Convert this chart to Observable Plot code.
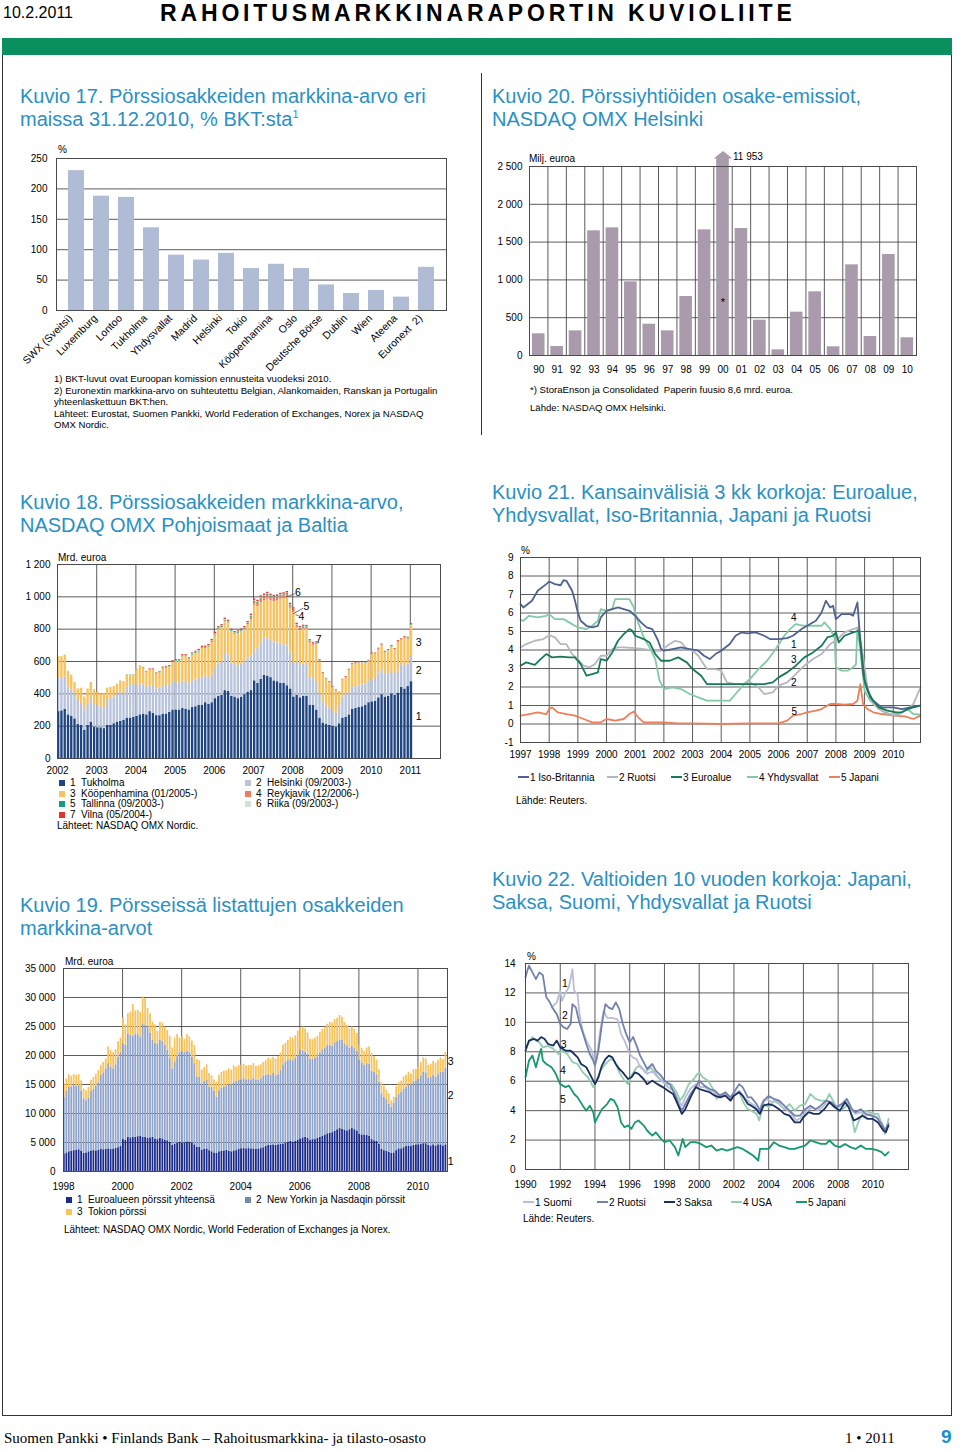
<!DOCTYPE html>
<html><head><meta charset="utf-8">
<script src="https://cdn.jsdelivr.net/npm/d3@7"></script>
<script src="https://cdn.jsdelivr.net/npm/@observablehq/plot@0.6"></script>
<style>
body{margin:0;background:#fff;}
#page{position:relative;width:960px;height:1450px;font-family:"Liberation Sans",Arial,sans-serif;color:#000;overflow:hidden;background:#fff}
.a{position:absolute;white-space:pre}
.title{position:absolute;color:#2a90c4;font-size:20px;line-height:23px;white-space:nowrap}
.note{position:absolute;font-size:9.6px;line-height:11.5px;white-space:pre}
.unit{position:absolute;font-size:10px;white-space:nowrap}
.leg{position:absolute;font-size:10px;white-space:pre;line-height:12px}
.sq{display:inline-block;width:6px;height:6px;margin-right:5px;vertical-align:0px}
.ln{display:inline-block;width:11px;height:2px;vertical-align:3px;margin-right:1px}
sup{font-size:11px;line-height:0;vertical-align:8px}
</style></head>
<body><div id="page"></div>
<script>
// ---------- DATA ----------
// Kuvio 17
const cats17 = ["SWX (Sveitsi)","Luxemburg","Lontoo","Tukholma","Yhdysvallat","Madrid","Helsinki","Tokio","Kööpenhamina","Oslo","Deutsche Börse","Dublin","Wien","Ateena","Euronext  2)"];
const vals17 = [230,188,186,136,91,83,94,69,76,69,42,28,33,22,71];
const ticks17 = [0,50,100,150,200,250];

// Kuvio 20
const years20 = ["90","91","92","93","94","95","96","97","98","99","00","01","02","03","04","05","06","07","08","09","10"];
const vals20 = [287,119,326,1649,1689,974,414,326,780,1662,11953,1680,467,75,573,842,115,1199,251,1336,234];
const ticks20 = [0,500,1000,1500,2000,2500];
const star20 = 700; // level of the "*" note marker

// Kuvio 18 (monthly 2002-01 .. 2011-01), cumulative levels
const k18Tuk = [290,295,305,270,260,245,210,205,175,205,225,195,
190,190,185,205,205,215,225,230,235,250,250,255,
260,270,275,270,290,280,265,265,275,275,285,300,
300,300,310,305,300,315,320,330,330,345,335,345,
370,385,390,420,415,385,380,370,380,395,410,420,
480,465,490,515,510,500,480,475,465,465,450,430,
380,390,375,385,385,330,330,300,250,220,210,205,
200,195,215,250,255,270,305,310,315,320,330,345,
350,355,375,395,380,385,400,390,405,440,430,445,
475];
const k18HelTop = [500,494,504,442,422,401,360,340,298,340,370,340,
329,319,309,360,370,381,401,411,401,442,453,463,
450,460,455,440,450,445,430,435,445,445,455,470,
470,465,480,470,460,480,485,495,500,510,500,515,
555,585,600,650,640,590,580,575,585,600,620,635,
660,680,720,745,740,735,720,715,705,710,695,660,
590,600,580,585,580,500,495,470,400,345,330,310,
290,280,330,380,395,410,440,445,450,455,460,480,
485,500,530,545,520,520,540,525,540,580,570,585,
630];
const k18KopTop = [630,630,640,540,515,470,430,435,380,430,470,425,
410,400,400,435,440,445,460,480,470,515,515,515,
550,570,560,535,545,545,520,530,555,560,565,595,
600,600,630,630,610,640,650,660,680,680,690,720,
765,800,810,850,840,785,770,775,785,800,830,860,
950,940,965,975,985,975,970,975,985,990,1000,930,
905,810,790,800,800,715,700,705,595,525,490,470,
440,420,405,485,500,545,580,585,590,590,590,600,
645,645,675,700,655,665,690,670,720,730,745,740,
825];
// small exchanges (segment values), with first month index
const k18Rey = [14,18,20,22,24,24,22,22,20,20,18,16,14,12,12,12,11,10,9,8,6,5]; // from 2006-12
const k18Tal = [2,2,2,2, 2,2,3,3,3,3,3,3,3,3,3,4, 4,4,4,4,4,4,5,5,5,5,5,5, 5,5,6,6,5,5,5,5,5,5,6,6, 6,6,6,6,6,6,5,5,5,5,5,5, 4,4,4,4,4,3,3,3,3,2,2,2, 1,1,1,1,2,2,2,2,2,2,2,2, 2,2,2,2,2,2,2,2,3,3,3,3, 3]; // from 2003-09
const k18Rii = [1,1,1,1, 1,1,2,2,2,2,2,2,2,2,2,2, 2,2,2,2,3,3,3,3,3,3,3,3, 3,3,4,4,3,3,3,3,3,3,4,4, 4,4,4,4,4,4,3,3,3,3,3,3, 3,3,3,3,2,2,2,2,2,1,1,1, 1,1,1,1,1,1,1,1,1,1,1,1, 1,1,1,1,1,1,2,2,2,2,2,2, 2]; // from 2003-09
const k18Vil = [4,4,4,4,5,5,5,5, 5,5,6,6,6,6,6,7,7,7,7,8, 8,8,8,8,7,7,7,7,8,8,8,9, 9,9,9,9,9,9,9,9,9,9,9,8, 8,8,7,7,7,6,6,6,5,4,3,3, 3,3,3,3,4,4,4,4,4,4,4,4, 4,4,4,5,5,5,5,5,5,5,5,5, 5]; // from 2004-05
const ticks18 = [0,200,400,600,800,1000,1200];
const years18 = [2002,2003,2004,2005,2006,2007,2008,2009,2010,2011];

// Kuvio 19 (monthly 1998-01 .. 2010-12), cumulative levels
const k19Eur = [3000,3200,3400,3500,3600,3650,3750,3500,3100,3200,3400,3550,
3600,3550,3650,3800,3750,3850,3900,3800,3850,4000,4100,4300,
5500,5400,5900,5800,5900,5900,6000,6100,5900,5900,5700,5800,
5900,5600,5500,5700,5600,5400,5300,5000,4500,4700,4900,5000,
4900,4950,5100,5050,4900,4600,4200,4150,3700,3800,3900,3600,
3400,3200,3100,3400,3500,3550,3650,3500,3400,3550,3600,3800,
3900,4000,3900,3950,3900,3900,3850,3900,3950,4100,4300,4500,
4500,4600,4500,4600,4700,4750,4900,5000,5200,5000,5200,5400,
5600,5800,5900,5700,5400,5500,5500,5700,5900,6100,6300,6500,
6600,6700,6900,7200,7400,7300,7100,7000,7200,7400,7200,7000,
6400,6300,6300,6200,6100,5500,5300,5200,4700,3800,3600,3500,
3300,3100,3200,3600,3900,3900,4100,4300,4400,4300,4500,4600,
4600,4700,4800,4800,4500,4400,4600,4400,4600,4600,4400,4600];
const k19NyTop = [12800,13800,14500,14600,14900,14700,14800,13900,12500,12200,12600,13800,
14200,14700,15400,16600,17000,17600,18600,18000,17700,18400,19700,20500,
22000,21800,23700,23500,23300,23600,23600,23200,25400,25200,24900,23900,
22600,22100,22000,22600,22500,21800,20900,19600,17700,18900,19800,20500,
20600,20600,20700,20500,19700,18600,16300,16200,15100,15500,15800,14500,
14500,13800,12800,13900,14300,14500,14800,15000,14900,15300,15500,15700,
15700,16000,15800,15900,15800,16000,15700,15800,16000,16500,16600,16700,
16600,16900,16500,16700,17400,18400,18900,19100,19300,19100,19500,20000,
20900,20800,20600,20200,19300,19400,19600,19800,20400,21000,21300,21700,
21800,21600,22200,22400,22700,22600,22000,21700,21300,21600,21200,20700,
19200,18700,18300,18600,18500,17300,17100,16700,15400,13400,12800,12500,
11600,11100,11800,12800,13300,13600,14200,14500,15000,14900,15500,15600,
15900,16400,17100,17000,16100,16200,16600,16300,16700,17100,17100,17800];
const k19Top = [15100,15900,16700,16400,16700,16600,16700,15600,14200,13900,14500,15700,
16200,16700,17400,18300,18800,19400,21500,20800,20500,21000,22400,23000,
26500,25300,27200,27500,28800,27700,27800,27400,30100,29800,28100,27200,
25700,25300,24200,25700,25600,24900,24300,23300,21300,23000,23600,23000,
23200,22800,23600,23200,22500,21700,19300,19100,17500,17900,18400,16900,
16500,15800,15400,16600,17100,17300,17400,17700,17500,18200,18000,18300,
18300,18500,18200,18300,18300,18600,18100,18200,18400,18800,19100,19500,
19400,19700,19400,19800,20400,21800,22100,22600,23100,23000,23400,24200,
24800,24900,24600,23900,22800,22800,23000,23300,24000,24500,24900,25400,
25700,25600,26200,26400,26900,26600,25700,25200,24600,24900,24500,23800,
21800,21200,20700,21300,21500,20300,19800,19200,17500,15300,14700,14000,
13400,12200,12800,14600,15300,15600,16300,16600,17100,16800,17500,17600,
18000,18800,19600,19400,18300,18500,19000,18700,19200,19600,19300,20500];
const ticks19 = [0,5000,10000,15000,20000,25000,30000,35000];
const years19 = [1998,2000,2002,2004,2006,2008,2010];

// Kuvio 21: [year, %]
const uk21 = [[1997.0,6.48],[1997.1,6.3],[1997.4,6.66],[1997.6,7.2],[1997.9,7.56],[1998.0,7.7],[1998.2,7.56],[1998.4,7.5],[1998.5,7.77],[1998.6,7.74],[1998.8,7.2],[1998.9,6.66],[1999.0,6.03],[1999.1,5.58],[1999.3,5.31],[1999.5,5.22],[1999.7,5.31],[1999.8,5.76],[2000.0,6.12],[2000.2,6.21],[2000.4,6.3],[2000.6,6.21],[2000.8,6.12],[2001.0,5.85],[2001.2,5.49],[2001.4,5.22],[2001.6,5.13],[2001.8,4.5],[2001.9,4.05],[2002.0,3.96],[2002.3,4.05],[2002.6,4.14],[2002.9,4.05],[2003.2,3.96],[2003.4,3.69],[2003.6,3.51],[2003.8,3.78],[2004.0,3.96],[2004.3,4.32],[2004.5,4.77],[2004.7,4.95],[2004.9,4.9],[2005.2,4.95],[2005.5,4.77],[2005.7,4.59],[2006.0,4.59],[2006.3,4.64],[2006.5,4.77],[2006.8,5.13],[2007.0,5.31],[2007.3,5.58],[2007.5,6.03],[2007.65,6.66],[2007.8,6.3],[2007.9,6.39],[2008.0,5.67],[2008.2,5.94],[2008.5,5.94],[2008.6,5.85],[2008.75,6.57],[2008.85,4.5],[2008.95,2.7],[2009.1,1.8],[2009.3,1.26],[2009.6,0.9],[2010.0,0.9],[2010.3,0.81],[2010.6,0.9],[2010.9,0.99]];
const se21 = [[1997.0,4.14],[1997.2,4.32],[1997.5,4.5],[1997.8,4.59],[1998.0,4.8],[1998.2,4.68],[1998.4,4.32],[1998.6,4.32],[1998.8,3.78],[1999.0,3.51],[1999.2,3.15],[1999.4,3.06],[1999.6,3.24],[1999.8,3.69],[2000.0,3.69],[2000.2,4.05],[2000.4,4.14],[2000.6,4.14],[2001.0,4.1],[2001.3,4.05],[2001.6,3.96],[2001.9,3.96],[2002.2,4.32],[2002.4,4.5],[2002.6,4.41],[2002.8,4.05],[2003.0,3.96],[2003.2,3.69],[2003.5,2.97],[2003.8,2.97],[2004.0,2.88],[2004.2,2.25],[2004.5,2.16],[2004.8,2.16],[2005.0,2.25],[2005.3,1.98],[2005.5,1.62],[2005.8,1.71],[2006.0,2.07],[2006.3,2.25],[2006.6,2.7],[2006.9,3.15],[2007.2,3.51],[2007.5,3.78],[2007.8,4.32],[2008.0,4.5],[2008.3,4.95],[2008.6,5.13],[2008.8,5.22],[2008.95,3.6],[2009.1,1.98],[2009.3,1.08],[2009.6,0.72],[2009.9,0.54],[2010.2,0.54],[2010.5,0.81],[2010.7,1.08],[2010.95,1.98]];
const ea21 = [[1997.0,3.15],[1997.2,3.33],[1997.5,3.2],[1997.7,3.51],[1997.9,3.78],[1998.1,3.6],[1998.4,3.64],[1998.7,3.6],[1998.9,3.6],[1999.1,3.24],[1999.3,2.61],[1999.5,2.7],[1999.7,2.79],[1999.8,3.51],[2000.0,3.42],[2000.2,3.87],[2000.4,4.5],[2000.6,4.86],[2000.8,5.13],[2000.9,5.04],[2001.0,4.77],[2001.3,4.59],[2001.5,4.41],[2001.7,3.78],[2001.9,3.42],[2002.2,3.42],[2002.5,3.6],[2002.8,3.33],[2003.0,2.97],[2003.3,2.61],[2003.5,2.16],[2004.0,2.16],[2004.5,2.16],[2005.0,2.16],[2005.5,2.16],[2005.8,2.25],[2006.0,2.52],[2006.3,2.79],[2006.6,3.15],[2006.9,3.6],[2007.2,3.87],[2007.5,4.23],[2007.7,4.68],[2007.9,4.77],[2008.0,4.95],[2008.1,4.41],[2008.3,4.77],[2008.6,4.95],[2008.8,5.04],[2008.9,3.78],[2009.0,2.34],[2009.2,1.44],[2009.5,0.9],[2009.8,0.72],[2010.1,0.63],[2010.3,0.63],[2010.5,0.81],[2010.7,0.9],[2010.95,0.99]];
const us21 = [[1997.0,5.63],[1997.1,5.58],[1997.3,5.85],[1997.6,5.76],[1997.9,5.85],[1998.0,5.94],[1998.2,5.67],[1998.5,5.67],[1998.8,5.4],[1998.9,5.31],[1999.0,5.22],[1999.3,5.13],[1999.5,5.31],[1999.7,5.58],[1999.8,6.21],[2000.0,6.12],[2000.2,6.21],[2000.3,6.75],[2000.5,6.75],[2000.8,6.75],[2000.95,6.3],[2001.1,5.49],[2001.3,4.68],[2001.5,4.14],[2001.7,3.51],[2001.85,2.34],[2002.0,1.89],[2002.3,1.98],[2002.6,1.89],[2002.9,1.62],[2003.2,1.44],[2003.5,1.26],[2003.8,1.26],[2004.0,1.26],[2004.3,1.26],[2004.5,1.62],[2004.8,2.16],[2005.0,2.43],[2005.3,2.97],[2005.6,3.42],[2005.9,4.05],[2006.2,4.77],[2006.4,5.13],[2006.6,5.4],[2006.9,5.31],[2007.2,5.31],[2007.5,5.31],[2007.6,5.49],[2007.8,5.13],[2007.95,4.68],[2008.0,3.06],[2008.2,2.88],[2008.4,2.88],[2008.6,3.06],[2008.7,3.24],[2008.75,5.22],[2008.85,3.96],[2009.0,1.8],[2009.2,1.26],[2009.5,0.81],[2009.8,0.54],[2010.1,0.45],[2010.3,0.63],[2010.5,0.81],[2010.7,0.54],[2010.95,0.5]];
const jp21 = [[1997.0,0.45],[1997.3,0.54],[1997.6,0.63],[1997.9,0.54],[1998.0,0.81],[1998.1,0.9],[1998.3,0.63],[1998.6,0.54],[1998.9,0.45],[1999.2,0.27],[1999.5,0.09],[1999.8,0.09],[2000.0,0.27],[2000.3,0.18],[2000.6,0.27],[2000.8,0.54],[2000.95,0.68],[2001.1,0.36],[2001.3,0.09],[2001.6,0.09],[2002.0,0.09],[2002.5,0.03],[2003.0,0.03],[2004.0,0.0],[2005.0,0.03],[2005.5,0.03],[2006.0,0.03],[2006.3,0.18],[2006.5,0.45],[2006.8,0.54],[2007.0,0.63],[2007.3,0.72],[2007.5,0.81],[2007.8,1.08],[2008.0,1.08],[2008.3,1.04],[2008.6,1.08],[2008.75,1.26],[2008.85,2.16],[2008.95,1.08],[2009.1,0.81],[2009.3,0.63],[2009.6,0.54],[2010.0,0.45],[2010.4,0.41],[2010.7,0.27],[2010.95,0.45]];
const lab21 = [{t:"4",x:2006.53,y:5.73},{t:"1",x:2006.53,y:4.29},{t:"3",x:2006.53,y:3.48},{t:"2",x:2006.53,y:2.25},{t:"5",x:2006.55,y:0.68}];

// Kuvio 22: [year, %]
const fi22 = [[1991.5,11.0],[1991.8,11.36],[1992.0,12.15],[1992.1,11.47],[1992.3,12.0],[1992.5,12.4],[1992.7,13.6],[1992.8,12.15],[1993.0,11.9],[1993.1,10.6],[1993.3,9.4],[1993.5,8.76],[1993.8,8.1],[1994.0,7.2],[1994.1,7.5],[1994.3,9.4],[1994.5,10.8],[1994.7,10.3],[1995.0,10.3],[1995.3,10.2],[1995.5,9.2],[1995.7,8.76],[1996.0,7.85],[1996.2,7.6],[1996.4,7.5],[1996.6,6.95],[1996.8,6.8],[1997.0,6.5],[1997.3,6.7],[1997.6,6.27],[1997.9,6.0],[1998.2,5.6],[1998.5,5.36],[1998.8,4.7],[1999.0,4.34],[1999.2,4.9],[1999.5,5.5],[1999.8,5.8],[2000.0,5.6],[2000.3,5.6],[2000.6,5.36],[2000.9,5.25],[2001.2,5.0],[2001.5,5.1],[2001.8,4.8],[2002.0,5.1],[2002.3,5.36],[2002.6,4.9],[2002.9,4.57],[2003.2,4.34],[2003.4,3.8],[2003.6,4.45],[2003.9,4.8],[2004.2,4.57],[2004.5,4.68],[2004.8,4.23],[2005.0,4.1],[2005.3,3.78],[2005.6,3.33],[2005.9,3.55],[2006.2,4.0],[2006.5,4.23],[2006.8,4.0],[2007.1,4.23],[2007.4,4.68],[2007.7,4.45],[2008.0,4.23],[2008.3,4.45],[2008.5,4.68],[2008.8,4.0],[2009.0,3.78],[2009.3,3.9],[2009.6,3.66],[2009.9,3.78],[2010.2,3.55],[2010.5,3.2],[2010.7,2.65],[2010.9,3.2]];
const se22 = [[1990.0,13.05],[1990.1,13.5],[1990.2,13.85],[1990.4,13.4],[1990.6,12.94],[1990.8,13.4],[1991.0,13.2],[1991.2,11.7],[1991.4,11.36],[1991.6,10.9],[1991.8,10.56],[1992.0,9.9],[1992.2,9.66],[1992.4,9.55],[1992.6,9.9],[1992.7,11.24],[1992.9,11.0],[1993.1,10.0],[1993.3,9.3],[1993.5,8.53],[1993.7,7.85],[1993.9,7.4],[1994.0,7.06],[1994.2,8.1],[1994.4,9.9],[1994.6,11.24],[1994.8,11.0],[1995.0,10.9],[1995.2,11.36],[1995.4,10.9],[1995.6,9.9],[1995.8,9.2],[1996.0,8.64],[1996.2,9.0],[1996.4,8.4],[1996.6,7.74],[1996.8,7.3],[1997.0,6.83],[1997.3,7.17],[1997.5,6.72],[1997.8,6.38],[1998.0,6.04],[1998.3,5.8],[1998.6,5.13],[1998.8,4.45],[1999.0,4.0],[1999.2,4.45],[1999.5,5.13],[1999.8,5.6],[2000.0,6.04],[2000.3,5.7],[2000.6,5.47],[2000.9,5.36],[2001.2,5.02],[2001.5,5.25],[2001.8,4.9],[2002.0,5.25],[2002.3,5.8],[2002.5,5.6],[2002.8,4.9],[2003.0,4.9],[2003.3,4.45],[2003.5,4.0],[2003.7,4.68],[2004.0,5.0],[2004.3,4.8],[2004.6,4.68],[2004.9,4.34],[2005.2,4.0],[2005.5,3.66],[2005.8,3.66],[2006.1,4.1],[2006.4,4.34],[2006.7,4.1],[2007.0,4.34],[2007.3,4.68],[2007.6,4.57],[2007.9,4.23],[2008.2,4.45],[2008.5,4.8],[2008.8,4.1],[2009.0,3.9],[2009.3,4.1],[2009.6,3.78],[2009.9,3.66],[2010.2,3.55],[2010.5,3.1],[2010.7,2.65],[2010.9,3.1]];
const de22 = [[1990.0,8.08],[1990.2,8.76],[1990.5,8.87],[1990.7,8.76],[1990.9,9.0],[1991.1,8.87],[1991.3,8.53],[1991.6,8.42],[1991.8,8.76],[1992.0,8.3],[1992.3,8.08],[1992.6,8.08],[1992.8,7.85],[1993.0,7.62],[1993.2,7.17],[1993.5,6.95],[1993.7,6.5],[1993.9,6.04],[1994.0,5.8],[1994.2,6.27],[1994.4,7.06],[1994.6,7.5],[1994.8,7.74],[1995.0,7.62],[1995.2,7.17],[1995.4,6.83],[1995.6,6.6],[1995.9,6.15],[1996.1,6.27],[1996.3,6.6],[1996.5,6.5],[1996.8,6.15],[1997.0,5.8],[1997.3,6.04],[1997.6,5.8],[1997.9,5.6],[1998.2,5.36],[1998.5,5.13],[1998.8,4.34],[1999.0,3.78],[1999.2,4.1],[1999.5,4.9],[1999.8,5.6],[2000.0,5.47],[2000.3,5.36],[2000.6,5.25],[2000.9,5.02],[2001.2,4.9],[2001.5,5.02],[2001.8,4.68],[2002.0,5.02],[2002.3,5.25],[2002.5,5.02],[2002.8,4.45],[2003.0,4.34],[2003.3,4.1],[2003.5,3.78],[2003.7,4.34],[2004.0,4.45],[2004.3,4.34],[2004.6,4.1],[2004.9,3.78],[2005.2,3.66],[2005.5,3.2],[2005.8,3.2],[2006.0,3.55],[2006.3,3.9],[2006.6,3.78],[2006.9,3.78],[2007.2,4.1],[2007.5,4.57],[2007.8,4.23],[2008.1,4.0],[2008.4,4.57],[2008.6,4.23],[2008.9,3.33],[2009.1,3.44],[2009.4,3.66],[2009.7,3.44],[2010.0,3.44],[2010.3,3.2],[2010.6,2.65],[2010.75,2.53],[2010.9,2.99]];
const us22 = [[1990.0,8.3],[1990.2,8.64],[1990.4,9.0],[1990.6,8.76],[1990.8,8.64],[1991.0,8.3],[1991.3,8.4],[1991.6,8.2],[1991.9,7.85],[1992.1,8.08],[1992.4,7.85],[1992.7,7.3],[1993.0,7.17],[1993.3,6.6],[1993.6,6.27],[1993.9,5.6],[1994.1,6.04],[1994.3,6.72],[1994.6,7.17],[1994.9,7.5],[1995.1,7.4],[1995.4,6.6],[1995.7,6.04],[1995.9,5.8],[1996.1,6.38],[1996.4,6.95],[1996.6,7.06],[1996.9,6.6],[1997.2,6.95],[1997.5,6.5],[1997.8,6.04],[1998.1,5.8],[1998.4,5.8],[1998.7,5.25],[1998.9,4.7],[1999.1,5.02],[1999.4,5.8],[1999.7,6.15],[1999.9,6.5],[2000.0,6.6],[2000.2,6.27],[2000.5,6.04],[2000.8,5.47],[2001.0,4.8],[2001.3,5.13],[2001.6,5.13],[2001.8,4.68],[2002.0,5.13],[2002.3,5.25],[2002.6,4.45],[2002.8,4.1],[2003.0,4.0],[2003.3,3.78],[2003.45,3.33],[2003.7,4.45],[2004.0,4.23],[2004.3,4.68],[2004.6,4.45],[2004.9,4.1],[2005.2,4.45],[2005.5,4.0],[2005.8,4.34],[2006.1,4.45],[2006.4,5.13],[2006.7,4.8],[2007.0,4.68],[2007.3,4.68],[2007.5,5.13],[2007.8,4.45],[2008.1,4.0],[2008.4,4.23],[2008.6,4.45],[2008.85,3.2],[2008.95,2.53],[2009.2,3.33],[2009.5,4.0],[2009.8,3.9],[2010.1,3.78],[2010.3,3.78],[2010.5,3.1],[2010.7,2.42],[2010.9,3.44]];
const jp22 = [[1990.0,6.27],[1990.2,7.4],[1990.4,7.74],[1990.6,6.95],[1990.8,7.85],[1990.9,8.2],[1991.0,7.4],[1991.2,7.17],[1991.5,6.95],[1991.7,6.6],[1992.0,5.8],[1992.3,5.6],[1992.5,5.7],[1992.8,5.13],[1993.0,4.9],[1993.3,4.34],[1993.5,4.0],[1993.7,4.34],[1993.9,3.9],[1994.0,3.2],[1994.2,3.66],[1994.4,4.1],[1994.7,4.45],[1994.9,4.8],[1995.1,4.68],[1995.3,4.23],[1995.5,3.2],[1995.7,2.87],[1995.9,3.0],[1996.1,2.76],[1996.3,3.2],[1996.5,3.33],[1996.8,3.0],[1997.0,2.65],[1997.3,2.3],[1997.5,2.53],[1997.8,2.08],[1998.0,1.86],[1998.3,1.97],[1998.6,1.52],[1998.8,0.95],[1998.95,1.63],[1999.05,2.08],[1999.2,1.52],[1999.5,1.86],[1999.8,1.86],[2000.1,1.74],[2000.4,1.52],[2000.7,1.63],[2001.0,1.29],[2001.3,1.4],[2001.6,1.29],[2001.9,1.4],[2002.2,1.52],[2002.5,1.4],[2002.8,1.18],[2003.1,0.95],[2003.4,0.61],[2003.5,1.4],[2003.7,1.4],[2004.0,1.4],[2004.3,1.86],[2004.6,1.63],[2004.9,1.52],[2005.2,1.4],[2005.5,1.4],[2005.8,1.52],[2006.1,1.63],[2006.4,1.97],[2006.7,1.86],[2007.0,1.74],[2007.3,1.74],[2007.5,1.97],[2007.8,1.63],[2008.1,1.52],[2008.4,1.74],[2008.7,1.52],[2009.0,1.4],[2009.3,1.63],[2009.6,1.4],[2009.9,1.4],[2010.2,1.33],[2010.5,1.18],[2010.7,0.95],[2010.9,1.18]];
const lab22 = [{t:"1",x:1992.27,y:12.65},{t:"2",x:1992.27,y:10.45},{t:"3",x:1992.2,y:8.46},{t:"4",x:1992.15,y:6.72},{t:"5",x:1992.15,y:4.73}];

// ---------- HELPERS ----------
const page = document.getElementById("page");
const FONT = "'Liberation Sans', Arial, sans-serif";
const GRID = "#4a4a4a";
const fmt = d3.formatLocale({decimal:",",thousands:"\u00a0",grouping:[3],currency:["",""]}).format(",d");
function html(x, y, cls, content, extra){
  const d = document.createElement("div");
  d.className = cls; d.style.left = x + "px"; d.style.top = y + "px";
  if (extra) d.style.cssText += extra;
  d.innerHTML = content; page.appendChild(d); return d;
}
function box(x, y, w, h, bg){ html(x, y, "a", "", `width:${w}px;height:${h}px;background:${bg}`); }
function put(svg, x, y){ svg.style.position = "absolute"; svg.style.left = x + "px"; svg.style.top = y + "px"; page.appendChild(svg); }
const st = () => ({fontFamily: FONT, fontSize: "10px", overflow: "visible", background: "transparent", color: "#000", maxWidth: "none"});
const grid = (fn, t) => fn(t, {stroke: GRID, strokeOpacity: 1, strokeWidth: 0.9});

// ---------- PAGE FRAME ----------
html(3, 4, "a", "10.2.2011", "font-size:16px");
html(160, 0, "a", "RAHOITUSMARKKINARAPORTIN KUVIOLIITE", "font-size:23px;font-weight:bold;letter-spacing:3.85px");
box(2, 38, 950, 17, "#0a8f5f");
box(2, 55, 1.3, 1361, "#333");
box(951, 55, 1.3, 1361, "#333");
box(2, 1415, 950.3, 1.3, "#333");
box(481, 73, 1.3, 362, "#333");
html(4, 1430, "a", "Suomen Pankki • Finlands Bank – Rahoitusmarkkina- ja tilasto-osasto", "font-family:'Liberation Serif','Times New Roman',serif;font-size:15px");
html(845, 1430, "a", "1 • 2011", "font-family:'Liberation Serif','Times New Roman',serif;font-size:15px");
html(941, 1426, "a", "9", "font-size:19px;font-weight:bold;color:#1b8ed0");

// ---------- KUVIO 17 ----------
html(20, 85, "title", "Kuvio 17. Pörssiosakkeiden markkina-arvo eri<br>maissa 31.12.2010, % BKT:sta<sup>1</sup>");
html(58, 144, "unit", "%");
put(Plot.plot({
  width: 470, height: 240, marginLeft: 56, marginRight: 24, marginTop: 18, marginBottom: 70,
  style: st(),
  x: {domain: cats17, padding: 0.34}, y: {domain: [0, 250]},
  marks: [
    grid(Plot.gridY, ticks17),
    Plot.barY(cats17.map((c, i) => ({c, v: vals17[i]})), {x: "c", y: "v", fill: "#b0bbd5"}),
    Plot.frame({stroke: GRID}),
    Plot.axisY({ticks: ticks17, tickSize: 0, tickPadding: 9, label: null}),
    Plot.axisX({tickSize: 0, tickPadding: 6, tickRotate: -45, label: null, dx: -6, fontSize: 10.5})
  ]
}), 0, 140);
html(54, 373, "note", "1) BKT-luvut ovat Euroopan komission ennusteita vuodeksi 2010.\n2) Euronextin markkina-arvo on suhteutettu Belgian, Alankomaiden, Ranskan ja Portugalin\nyhteenlaskettuun BKT:hen.\nLähteet: Eurostat, Suomen Pankki, World Federation of Exchanges, Norex ja NASDAQ\nOMX Nordic.");

// ---------- KUVIO 20 ----------
html(492, 85, "title", "Kuvio 20. Pörssiyhtiöiden osake-emissiot,<br>NASDAQ OMX Helsinki");
html(529, 153, "unit", "Milj. euroa");
const max20 = ticks20[ticks20.length - 1];
const d20 = vals20.map((v, i) => ({i, v}));
const arrowHead = {draw(ctx) { ctx.moveTo(-9.4, 0); ctx.lineTo(0, -7.5); ctx.lineTo(9.4, 0); ctx.closePath(); }};
const over20 = d20.filter(d => d.v > max20);
put(Plot.plot({
  width: 450, height: 240, marginLeft: 49, marginRight: 14, marginTop: 26, marginBottom: 25,
  style: st(),
  x: {domain: [0, years20.length]}, y: {domain: [0, max20]},
  marks: [
    grid(Plot.gridY, ticks20),
    grid(Plot.gridX, d3.range(years20.length + 1)),
    Plot.rect(d20.filter(d => d.v <= max20), {x1: d => d.i, x2: d => d.i + 1, y1: 0, y2: "v", fill: "#a99bab", insetLeft: 2.9, insetRight: 2.9}),
    Plot.rect(over20, {x1: d => d.i, x2: d => d.i + 1, y1: 0, y2: max20, fill: "#a99bab", insetLeft: 2.9, insetRight: 2.9, insetTop: -8}),
    Plot.frame({stroke: GRID}),
    Plot.dot(over20, {x: d => d.i + 0.5, y: max20, symbol: arrowHead, r: 5, fill: "#a99bab", stroke: "none", dy: -8}),
    Plot.text(over20, {x: d => d.i + 0.5, y: max20, text: d => fmt(d.v), textAnchor: "start", dx: 10, dy: -10, fontSize: 10}),
    Plot.text(over20, {x: d => d.i + 0.5, y: star20, text: () => "*", fontSize: 11}),
    Plot.axisY({ticks: ticks20, tickSize: 0, tickPadding: 7, tickFormat: fmt, label: null}),
    Plot.axisX({ticks: d3.range(years20.length).map(i => i + 0.5), tickFormat: d => years20[Math.floor(d)], tickSize: 0, tickPadding: 10, label: null})
  ]
}), 480, 140);
html(530, 384, "note", "*) StoraEnson ja Consolidated  Paperin fuusio 8,6 mrd. euroa.");
html(530, 402, "note", "Lähde: NASDAQ OMX Helsinki.");

// ---------- KUVIO 18 ----------
html(20, 491, "title", "Kuvio 18. Pörssiosakkeiden markkina-arvo,<br>NASDAQ OMX Pohjoismaat ja Baltia");
html(58, 552, "unit", "Mrd. euroa");
const col18 = {1: "#1f4580", 2: "#b8c4dc", 3: "#f8c35e", 4: "#ee7d5e", 5: "#1a9b7b", 6: "#cde3d5", 7: "#e3342b"};
const rows18 = [];
k18Tuk.forEach((v, i) => {
  const x1 = 2002 + i / 12, x2 = 2002 + (i + 1) / 12;
  rows18.push({x1, x2, y1: 0, y2: v, s: 1});
  rows18.push({x1, x2, y1: v, y2: k18HelTop[i], s: 2});
  rows18.push({x1, x2, y1: k18HelTop[i], y2: k18KopTop[i], s: 3});
  let y = k18KopTop[i];
  [[k18Rey, 59, 4], [k18Tal, 20, 5], [k18Rii, 20, 6], [k18Vil, 28, 7]].forEach(([arr, s0, s]) => {
    const w = arr[i - s0];
    if (w) { rows18.push({x1, x2, y1: y, y2: y + w, s}); y += w; }
  });
});
const lab18 = [{t:"3",x:2011.21,y:717},{t:"2",x:2011.21,y:544},{t:"1",x:2011.21,y:260},{t:"6",x:2008.13,y:1028},{t:"5",x:2008.35,y:940},{t:"4",x:2008.22,y:880},{t:"7",x:2008.66,y:734}];
const lead18 = [{x1:2007.82,y1:997,x2:2008.05,y2:1020},{x1:2008.01,y1:895,x2:2008.27,y2:930},{x1:2008.07,y1:889,x2:2008.15,y2:884}];
put(Plot.plot({
  width: 470, height: 235, marginLeft: 57, marginRight: 30, marginTop: 19, marginBottom: 22,
  style: st(), color: {type: "identity"},
  x: {domain: [2002, 2011.77]}, y: {domain: [0, 1200]},
  marks: [
    grid(Plot.gridY, ticks18),
    grid(Plot.gridX, years18),
    Plot.rect(rows18, {x1: "x1", x2: "x2", y1: "y1", y2: "y2", fill: d => col18[d.s], insetRight: 0.9}),
    Plot.frame({stroke: GRID}),
    Plot.link(lead18, {x1: "x1", y1: "y1", x2: "x2", y2: "y2", stroke: "#333", strokeWidth: 0.7}),
    Plot.text(lab18, {x: "x", y: "y", text: "t", fontSize: 10.5}),
    Plot.axisY({ticks: ticks18, tickSize: 0, tickPadding: 7, tickFormat: fmt, label: null}),
    Plot.axisX({ticks: years18, tickSize: 0, tickPadding: 8, tickFormat: "d", label: null})
  ]
}), 0, 545);
const sq = c => `<span class="sq" style="background:${c}"></span>`;
html(59, 778, "leg", sq(col18[1]) + "1  Tukholma\n" + sq(col18[3]) + "3  Kööpenhamina (01/2005-)\n" + sq(col18[5]) + "5  Tallinna (09/2003-)\n" + sq(col18[7]) + "7  Vilna (05/2004-)", "line-height:10.5px");
html(245, 778, "leg", sq(col18[2]) + "2  Helsinki (09/2003-)\n" + sq(col18[4]) + "4  Reykjavik (12/2006-)\n" + sq(col18[6]) + "6  Riika (09/2003-)", "line-height:10.5px");
html(57, 820, "leg", "Lähteet: NASDAQ OMX Nordic.");

// ---------- KUVIO 21 ----------
html(492, 481, "title", "Kuvio 21. Kansainvälisiä 3 kk korkoja: Euroalue,<br>Yhdysvallat, Iso-Britannia, Japani ja Ruotsi");
html(521, 545, "unit", "%");
const c21 = {uk: "#4f6390", se: "#b6b6bf", ea: "#167a59", us: "#85c8a5", jp: "#ef7f5b"};
const ln = (data, c) => Plot.line(data, {x: d => d[0], y: d => d[1], stroke: c, strokeWidth: 1.8});
put(Plot.plot({
  width: 450, height: 220, marginLeft: 40, marginRight: 10, marginTop: 12, marginBottom: 23,
  style: st(),
  x: {domain: [1997, 2010.95]}, y: {domain: [-1, 9]},
  marks: [
    grid(Plot.gridY, d3.range(-1, 10)),
    grid(Plot.gridX, d3.range(1997, 2011)),
    ln(jp21, c21.jp), ln(us21, c21.us), ln(se21, c21.se), ln(uk21, c21.uk), ln(ea21, c21.ea),
    Plot.frame({stroke: GRID}),
    Plot.text(lab21, {x: "x", y: "y", text: "t", fontSize: 10}),
    Plot.axisY({ticks: d3.range(-1, 10), tickSize: 0, tickPadding: 7, tickFormat: d => String(d), label: null}),
    Plot.axisX({ticks: d3.range(1997, 2011), tickSize: 0, tickPadding: 8, tickFormat: "d", label: null})
  ]
}), 480, 545);
const lns = c => `<span class="ln" style="background:${c}"></span>`;
html(518, 772, "leg", lns(c21.uk) + "1 Iso-Britannia");
html(607, 772, "leg", lns(c21.se) + "2 Ruotsi");
html(671, 772, "leg", lns(c21.ea) + "3 Euroalue");
html(747, 772, "leg", lns(c21.us) + "4 Yhdysvallat");
html(829, 772, "leg", lns(c21.jp) + "5 Japani");
html(516, 795, "leg", "Lähde: Reuters.");

// ---------- KUVIO 19 ----------
html(20, 894, "title", "Kuvio 19. Pörsseissä listattujen osakkeiden<br>markkina-arvot");
html(65, 956, "unit", "Mrd. euroa");
const col19 = {1: "#1b2a8a", 2: "#8fa3cb", 3: "#f6c35c"};
const rows19 = [];
k19Eur.forEach((v, i) => {
  const x1 = 1998 + i / 12, x2 = 1998 + (i + 1) / 12;
  rows19.push({x1, x2, y1: 0, y2: v, s: 1});
  rows19.push({x1, x2, y1: v, y2: k19NyTop[i], s: 2});
  rows19.push({x1, x2, y1: k19NyTop[i], y2: k19Top[i], s: 3});
});
const lab19 = [{t:"3",x:2011.11,y:18950},{t:"2",x:2011.11,y:13070},{t:"1",x:2011.11,y:1675}];
put(Plot.plot({
  width: 470, height: 240, marginLeft: 63, marginRight: 23, marginTop: 18, marginBottom: 19,
  style: st(), color: {type: "identity"},
  x: {domain: [1998, 2011]}, y: {domain: [0, 35000]},
  marks: [
    grid(Plot.gridY, ticks19),
    grid(Plot.gridX, years19),
    Plot.rect(rows19, {x1: "x1", x2: "x2", y1: "y1", y2: "y2", fill: d => col19[d.s], insetRight: 0.7}),
    Plot.frame({stroke: GRID}),
    Plot.text(lab19, {x: "x", y: "y", text: "t", fontSize: 10.5}),
    Plot.axisY({ticks: ticks19, tickSize: 0, tickPadding: 8, tickFormat: fmt, label: null}),
    Plot.axisX({ticks: years19, tickSize: 0, tickPadding: 11, tickFormat: "d", label: null})
  ]
}), 0, 950);
html(66, 1194, "leg", sq(col19[1]) + "1  Euroalueen pörssit yhteensä\n" + sq(col19[3]) + "3  Tokion pörssi", "line-height:12px");
html(245, 1194, "leg", sq("#7489b1") + "2  New Yorkin ja Nasdaqin pörssit");
html(64, 1224, "leg", "Lähteet: NASDAQ OMX Nordic, World Federation of Exchanges ja Norex.");

// ---------- KUVIO 22 ----------
html(492, 868, "title", "Kuvio 22. Valtioiden 10 vuoden korkoja: Japani,<br>Saksa, Suomi, Yhdysvallat ja Ruotsi");
html(527, 951, "unit", "%");
const c22 = {fi: "#b9bdd9", se: "#7282ac", de: "#1b2f5e", us: "#92cdaf", jp: "#169a6c"};
put(Plot.plot({
  width: 450, height: 240, marginLeft: 45, marginRight: 22, marginTop: 13, marginBottom: 21,
  style: st(),
  x: {domain: [1990, 2012.05]}, y: {domain: [0, 14]},
  marks: [
    grid(Plot.gridY, d3.range(0, 15, 2)),
    grid(Plot.gridX, d3.range(1990, 2012, 2)),
    ln(jp22, c22.jp), ln(us22, c22.us), ln(fi22, c22.fi), ln(se22, c22.se), ln(de22, c22.de),
    Plot.frame({stroke: GRID}),
    Plot.text(lab22, {x: "x", y: "y", text: "t", fontSize: 10.5}),
    Plot.axisY({ticks: d3.range(0, 15, 2), tickSize: 0, tickPadding: 10, tickFormat: d => String(d), label: null}),
    Plot.axisX({ticks: d3.range(1990, 2011, 2), tickSize: 0, tickPadding: 11, tickFormat: "d", label: null})
  ]
}), 480, 950);
html(523, 1197, "leg", lns(c22.fi) + "1 Suomi");
html(597, 1197, "leg", lns(c22.se) + "2 Ruotsi");
html(664, 1197, "leg", lns(c22.de) + "3 Saksa");
html(731, 1197, "leg", lns(c22.us) + "4 USA");
html(796, 1197, "leg", lns(c22.jp) + "5 Japani");
html(523, 1213, "leg", "Lähde: Reuters.");
</script></body></html>
